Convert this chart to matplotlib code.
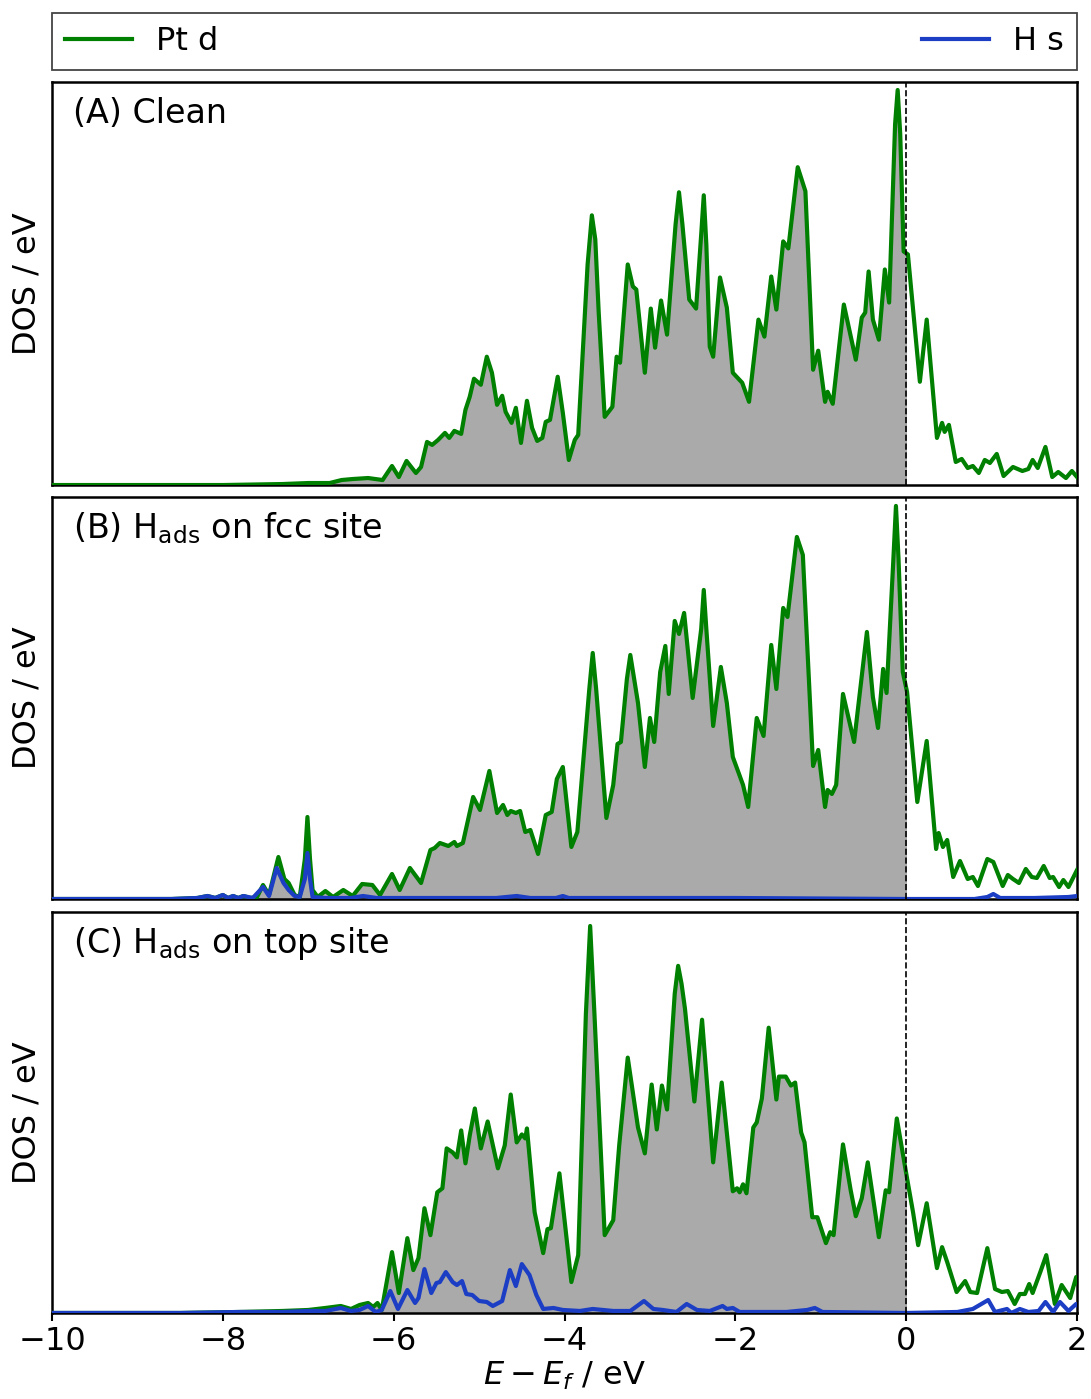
import numpy as np
import matplotlib
matplotlib.use("Agg")
import matplotlib.pyplot as plt
from matplotlib.patches import Rectangle

# ---------------- data: projected DOS (arbitrary units) vs E - E_f (eV) ----------------
# (A) clean Pt surface, Pt d states
E_clean = [-10.0, -8.0, -7.3, -7.0, -6.75, -6.61, -6.48, -6.30, -6.13, -6.02, -5.94, -5.85,
           -5.74, -5.68, -5.61, -5.55, -5.48, -5.40, -5.35, -5.29, -5.21, -5.16, -5.11, -5.06,
           -4.98, -4.91, -4.85, -4.79, -4.73, -4.69, -4.62, -4.57, -4.51, -4.44, -4.38, -4.32,
           -4.26, -4.22, -4.17, -4.08, -4.02, -3.95, -3.88, -3.84, -3.73, -3.68, -3.64, -3.60,
           -3.53, -3.44, -3.39, -3.35, -3.26, -3.20, -3.16, -3.06, -2.99, -2.94, -2.87, -2.80,
           -2.70, -2.66, -2.62, -2.54, -2.46, -2.40, -2.37, -2.34, -2.30, -2.26, -2.18, -2.10,
           -2.03, -1.92, -1.84, -1.73, -1.66, -1.58, -1.52, -1.44, -1.38, -1.30, -1.27, -1.18,
           -1.09, -1.03, -0.95, -0.92, -0.86, -0.73, -0.59, -0.52, -0.48, -0.44, -0.39, -0.32,
           -0.25, -0.20, -0.13, -0.10, -0.07, -0.03, 0.02, 0.16, 0.24, 0.36, 0.42, 0.45, 0.50,
           0.58, 0.65, 0.72, 0.78, 0.85, 0.92, 0.98, 1.06, 1.14, 1.25, 1.36, 1.43, 1.48, 1.54,
           1.63, 1.71, 1.78, 1.87, 1.94, 2.00]
ptd_clean = [0.0, 0.0, 0.01, 0.02, 0.02, 0.05, 0.06, 0.07, 0.05, 0.19, 0.08, 0.24,
             0.12, 0.18, 0.43, 0.40, 0.45, 0.52, 0.47, 0.54, 0.51, 0.75, 0.88, 1.06,
             1.00, 1.28, 1.12, 0.80, 0.89, 0.73, 0.62, 0.77, 0.42, 0.84, 0.57, 0.44,
             0.47, 0.63, 0.65, 1.08, 0.72, 0.25, 0.45, 0.50, 2.20, 2.69, 2.45, 1.72,
             0.68, 0.78, 1.28, 1.22, 2.20, 1.98, 1.95, 1.12, 1.76, 1.37, 1.84, 1.50,
             2.60, 2.92, 2.60, 1.85, 1.76, 2.50, 2.89, 2.40, 1.38, 1.28, 2.07, 1.77,
             1.12, 1.02, 0.83, 1.65, 1.48, 2.08, 1.75, 2.43, 2.36, 2.95, 3.17, 2.93,
             1.15, 1.34, 0.83, 0.93, 0.81, 1.80, 1.25, 1.67, 1.72, 2.13, 1.65, 1.45,
             2.15, 1.82, 3.60, 3.94, 3.50, 2.33, 2.30, 1.03, 1.65, 0.47, 0.62, 0.53, 0.60,
             0.23, 0.26, 0.17, 0.19, 0.12, 0.25, 0.22, 0.31, 0.09, 0.18, 0.14, 0.16, 0.25, 0.17,
             0.38, 0.08, 0.13, 0.07, 0.14, 0.08]

# (B) H adsorbed on fcc site, Pt d states
E_fcc = [-10.0, -8.6, -8.3, -8.18, -8.09, -8.0, -7.94, -7.88, -7.82, -7.76, -7.68, -7.60,
         -7.53, -7.46, -7.35, -7.28, -7.23, -7.16, -7.10, -7.04, -7.01, -6.98, -6.95, -6.89,
         -6.80, -6.71, -6.59, -6.48, -6.37, -6.25, -6.16, -6.02, -5.93, -5.81, -5.68, -5.57,
         -5.52, -5.46, -5.36, -5.29, -5.26, -5.19, -5.07, -4.99, -4.88, -4.79, -4.72, -4.67,
         -4.63, -4.57, -4.52, -4.46, -4.40, -4.31, -4.22, -4.15, -4.09, -4.02, -3.92, -3.85,
         -3.71, -3.67, -3.63, -3.51, -3.43, -3.38, -3.34, -3.27, -3.23, -3.14, -3.06, -3.00,
         -2.95, -2.88, -2.82, -2.78, -2.71, -2.66, -2.60, -2.50, -2.40, -2.37, -2.34, -2.26,
         -2.17, -2.10, -2.03, -1.91, -1.85, -1.75, -1.67, -1.58, -1.52, -1.44, -1.39, -1.31,
         -1.28, -1.21, -1.09, -1.03, -0.95, -0.92, -0.87, -0.82, -0.74, -0.61, -0.53, -0.46,
         -0.39, -0.33, -0.27, -0.23, -0.15, -0.12, -0.09, -0.04, 0.01, 0.13, 0.24, 0.35, 0.38,
         0.43, 0.48, 0.55, 0.63, 0.72, 0.78, 0.84, 0.95, 1.02, 1.13, 1.19, 1.25, 1.32, 1.40,
         1.47, 1.53, 1.61, 1.68, 1.72, 1.79, 1.84, 1.90, 2.00]
ptd_fcc = [0.0, 0.0, 0.01, 0.03, 0.01, 0.04, 0.01, 0.03, 0.01, 0.03, 0.01, 0.02,
           0.14, 0.04, 0.42, 0.20, 0.16, 0.04, 0.02, 0.40, 0.82, 0.40, 0.09, 0.02,
           0.08, 0.02, 0.09, 0.03, 0.15, 0.14, 0.04, 0.25, 0.09, 0.31, 0.16, 0.49,
           0.51, 0.56, 0.53, 0.57, 0.53, 0.56, 1.02, 0.89, 1.28, 0.86, 0.94, 0.84,
           0.88, 0.86, 0.88, 0.67, 0.69, 0.45, 0.84, 0.87, 1.20, 1.32, 0.52, 0.67,
           2.10, 2.46, 2.10, 0.81, 1.14, 1.55, 1.57, 2.20, 2.44, 1.96, 1.32, 1.81,
           1.57, 2.27, 2.53, 2.05, 2.78, 2.65, 2.86, 2.01, 2.70, 3.09, 2.70, 1.73,
           2.32, 1.96, 1.42, 1.14, 0.92, 1.81, 1.63, 2.54, 2.10, 2.91, 2.82, 3.40,
           3.62, 3.44, 1.33, 1.49, 0.92, 1.09, 1.05, 1.14, 2.05, 1.57, 2.16, 2.67,
           2.02, 1.71, 2.30, 2.06, 3.40, 3.93, 3.40, 2.27, 2.07, 0.97, 1.58, 0.50, 0.66,
           0.52, 0.59, 0.22, 0.38, 0.20, 0.22, 0.13, 0.40, 0.37, 0.13, 0.24, 0.20, 0.16, 0.30,
           0.22, 0.21, 0.33, 0.21, 0.22, 0.12, 0.19, 0.12, 0.29]

# (B) H adsorbed on fcc site, H s states
E_fcc_h = [-10.0, -8.6, -8.3, -8.18, -8.09, -8.0, -7.94, -7.88, -7.82, -7.76, -7.65, -7.53,
           -7.46, -7.37, -7.29, -7.23, -7.16, -7.10, -7.04, -7.01, -6.98, -6.95, -6.80, -6.50,
           -6.36, -6.20, -5.50, -4.80, -4.56, -4.40, -4.10, -4.02, -3.95, -3.20, -2.00, 0.00,
           0.80, 0.95, 1.02, 1.10, 1.50, 1.90, 2.00]
hs_fcc = [0.0, 0.0, 0.01, 0.03, 0.01, 0.04, 0.01, 0.03, 0.01, 0.03, 0.01, 0.12,
          0.03, 0.31, 0.16, 0.09, 0.03, 0.02, 0.20, 0.46, 0.20, 0.02, 0.01, 0.01,
          0.03, 0.01, 0.01, 0.01, 0.03, 0.01, 0.01, 0.03, 0.01, 0.01, 0.01, 0.0,
          0.0, 0.02, 0.05, 0.01, 0.01, 0.02, 0.03]

# (C) H adsorbed on top site, Pt d states
E_top = [-10.0, -8.5, -7.8, -7.3, -7.0, -6.8, -6.62, -6.50, -6.40, -6.30, -6.24, -6.19,
         -6.14, -6.02, -5.94, -5.84, -5.77, -5.71, -5.64, -5.57, -5.49, -5.43, -5.38, -5.31,
         -5.26, -5.21, -5.16, -5.11, -5.05, -4.98, -4.90, -4.78, -4.70, -4.63, -4.56, -4.50,
         -4.46, -4.44, -4.35, -4.25, -4.20, -4.16, -4.06, -3.92, -3.84, -3.75, -3.70, -3.65,
         -3.53, -3.43, -3.36, -3.26, -3.14, -3.06, -2.98, -2.92, -2.86, -2.80, -2.71, -2.67,
         -2.63, -2.59, -2.48, -2.39, -2.26, -2.16, -2.03, -1.98, -1.95, -1.91, -1.87, -1.79,
         -1.75, -1.69, -1.61, -1.52, -1.49, -1.41, -1.35, -1.30, -1.23, -1.19, -1.10, -1.04,
         -0.94, -0.89, -0.85, -0.74, -0.65, -0.59, -0.52, -0.45, -0.32, -0.24, -0.20, -0.11,
         0.01, 0.08, 0.14, 0.24, 0.36, 0.42, 0.48, 0.59, 0.69, 0.75, 0.83, 0.95, 1.04, 1.12,
         1.19, 1.27, 1.33, 1.39, 1.44, 1.48, 1.57, 1.64, 1.74, 1.82, 1.92, 1.99, 2.00]
ptd_top = [0.0, 0.0, 0.01, 0.02, 0.03, 0.05, 0.07, 0.04, 0.08, 0.10, 0.06, 0.10,
           0.03, 0.61, 0.20, 0.75, 0.43, 0.55, 1.05, 0.78, 1.21, 1.25, 1.65, 1.61,
           1.56, 1.83, 1.50, 1.78, 2.05, 1.65, 1.92, 1.45, 1.68, 2.19, 1.71, 1.79,
           1.75, 1.85, 1.01, 0.60, 0.84, 0.85, 1.40, 0.31, 0.58, 3.00, 3.88, 3.00,
           0.78, 0.93, 1.68, 2.56, 1.86, 1.60, 2.29, 1.84, 2.28, 2.04, 3.20, 3.48,
           3.30, 3.05, 2.12, 2.94, 1.51, 2.31, 1.22, 1.25, 1.21, 1.29, 1.20, 1.86,
           1.91, 2.15, 2.86, 2.14, 2.37, 2.37, 2.28, 2.31, 1.81, 1.71, 0.96, 0.96,
           0.70, 0.81, 0.78, 1.69, 1.23, 0.97, 1.15, 1.51, 0.76, 1.23, 1.21, 1.95,
           1.35, 1.01, 0.68, 1.10, 0.45, 0.66, 0.51, 0.21, 0.32, 0.21, 0.20, 0.65, 0.24, 0.21,
           0.22, 0.09, 0.19, 0.19, 0.29, 0.20, 0.41, 0.58, 0.09, 0.28, 0.15, 0.36, 0.30]

# (C) H adsorbed on top site, H s states
E_top_h = [-10.0, -8.5, -7.8, -7.3, -7.0, -6.8, -6.62, -6.50, -6.40, -6.30, -6.21, -6.14,
           -6.04, -5.95, -5.84, -5.75, -5.71, -5.64, -5.56, -5.50, -5.46, -5.39, -5.31, -5.26,
           -5.20, -5.15, -5.08, -5.00, -4.91, -4.84, -4.73, -4.64, -4.57, -4.50, -4.41, -4.33,
           -4.25, -4.13, -4.02, -3.82, -3.67, -3.55, -3.43, -3.23, -3.07, -2.96, -2.85, -2.69,
           -2.57, -2.45, -2.30, -2.15, -2.10, -2.03, -1.95, -1.40, -1.16, -1.07, -0.98, 0.0,
           0.60, 0.78, 0.96, 1.04, 1.18, 1.23, 1.33, 1.43, 1.55, 1.63, 1.72, 1.80, 1.90, 1.99,
           2.00]
hs_top = [0.0, 0.0, 0.01, 0.01, 0.02, 0.02, 0.05, 0.02, 0.03, 0.07, 0.01, 0.03,
          0.22, 0.04, 0.23, 0.10, 0.15, 0.44, 0.20, 0.30, 0.31, 0.41, 0.31, 0.28,
          0.32, 0.19, 0.18, 0.12, 0.11, 0.07, 0.12, 0.43, 0.27, 0.49, 0.38, 0.18,
          0.04, 0.05, 0.03, 0.02, 0.04, 0.03, 0.02, 0.02, 0.12, 0.04, 0.03, 0.01,
          0.09, 0.03, 0.02, 0.07, 0.04, 0.05, 0.01, 0.01, 0.03, 0.05, 0.01, 0.0,
          0.01, 0.04, 0.13, 0.01, 0.04, 0.0, 0.04, 0.01, 0.02, 0.11, 0.01, 0.11, 0.02, 0.09,
          0.08]

panel_titles = ["(A) Clean",
                r"(B) H$_{\rm ads}$ on fcc site",
                r"(C) H$_{\rm ads}$ on top site"]
series_labels = ["Pt d", "H s"]
xticks = [-10, -8, -6, -4, -2, 0, 2]

# ---------------- styling ----------------
GREEN = "green"
BLUE = "#1b3ec4"
FILL = "#aaaaaa"
LW = 3.0
plt.rcParams["font.family"] = ["DejaVu Sans"]

fig = plt.figure(figsize=(10.91, 13.99), dpi=100)
left, width = 0.0477, 0.9395
boxes = [(left, 0.6533, width, 0.2881),
         (left, 0.3574, width, 0.2874),
         (left, 0.0615, width, 0.2866)]

panels = [
    (E_clean, ptd_clean, None, None),
    (E_fcc, ptd_fcc, E_fcc_h, hs_fcc),
    (E_top, ptd_top, E_top_h, hs_top),
]

axes = []
for i, (box, (e_d, d, e_h, h)) in enumerate(zip(boxes, panels)):
    ax = fig.add_axes(box)
    axes.append(ax)
    e_d = np.asarray(e_d)
    d = np.asarray(d)

    # occupied states shaded up to the Fermi level
    occ = Rectangle((-10, 0), 10, 100, transform=ax.transData, visible=False)
    ax.add_patch(occ)
    fill = ax.fill_between(e_d, 0, d, color=FILL, linewidth=0, zorder=1)
    fill.set_clip_path(occ)

    ax.plot(e_d, d, color=GREEN, lw=LW, zorder=3, label=series_labels[0],
            solid_joinstyle="round")
    if e_h is not None:
        ax.plot(e_h, h, color=BLUE, lw=LW, zorder=4, label=series_labels[1],
                solid_joinstyle="round")
    ax.axvline(0, color="black", ls="--", lw=1.2, zorder=5)

    ax.set_xlim(-10, 2)
    ax.set_ylim(0, 4.02)
    ax.set_yticks([])
    ax.set_ylabel("DOS / eV", fontsize=23, labelpad=7)
    for s in ax.spines.values():
        s.set_linewidth(1.8)
    ax.text(0.02, 0.898, panel_titles[i], transform=ax.transAxes,
            fontsize=24, va="baseline", ha="left")

    if i < 2:
        ax.set_xticks([])
    else:
        ax.set_xticks(xticks)
        ax.tick_params(axis="x", labelsize=23, length=6, width=1.5)
        ax.set_xlabel(r"$E - E_f$ / eV", fontsize=23, labelpad=2)

handles = [axes[1].lines[0], axes[1].lines[1]]
leg = axes[0].legend(handles, series_labels, loc="lower left",
                     bbox_to_anchor=(0, 1.03, 1, 0.146), mode="expand", ncol=2,
                     borderaxespad=0, fontsize=23, fancybox=False, framealpha=1,
                     edgecolor="#444444", handlelength=2.1, handletextpad=0.75)
leg.get_frame().set_linewidth(1.3)

fig.savefig("out.png", dpi=100)
